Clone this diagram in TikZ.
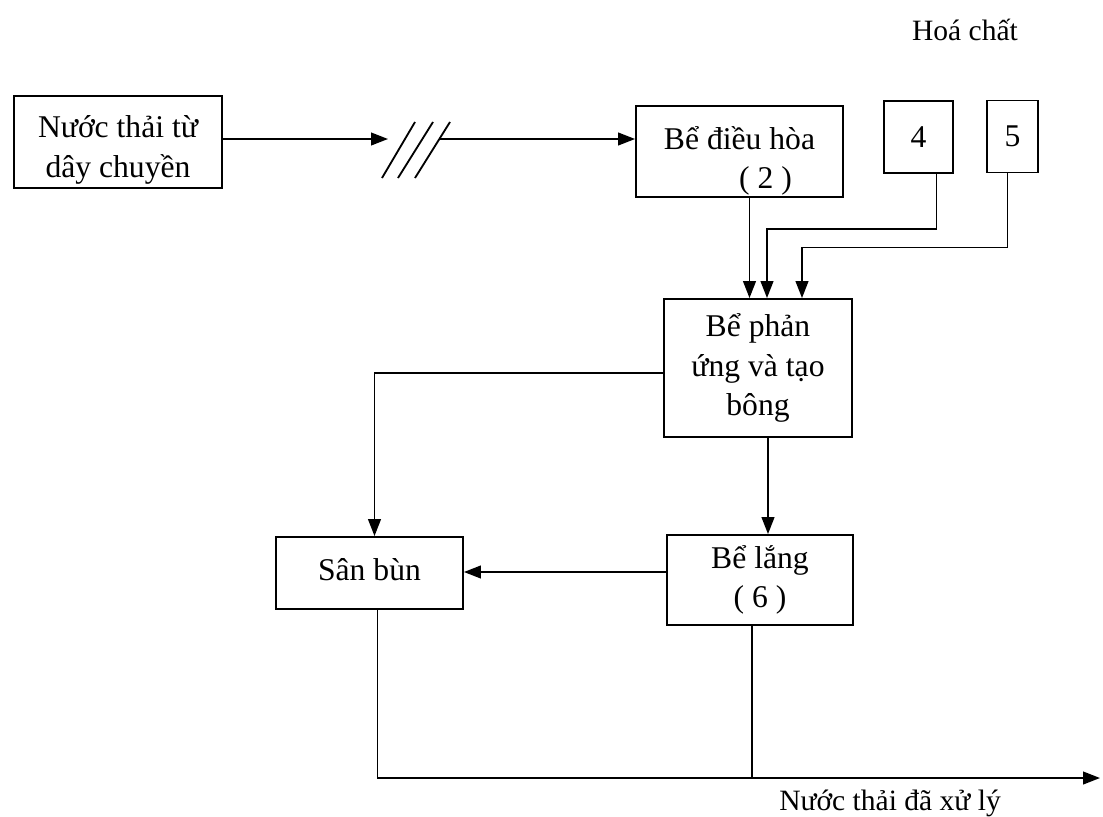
\documentclass[tikz,border=0pt]{standalone}
\usepackage{fontspec}
\setmainfont{Liberation Serif}
\usetikzlibrary{arrows.meta, calc}

\tikzset{
  tank/.style={draw, line width=1.3pt, align=center, inner sep=2pt,
               font=\fontsize{22.5}{28}\selectfont},
  flow/.style={line width=1.3pt, -{Triangle[length=12pt, width=9pt]}},
  pipe/.style={line width=1.3pt},
  note/.style={font=\fontsize{21}{28}\selectfont}
}

\begin{document}
\begin{tikzpicture}[x=0.025cm, y=-0.025cm]
  \useasboundingbox (0,0) rectangle (1103,816);

  % tanks
  \node[tank, minimum width=5.2cm, minimum height=2.3cm] (src) at (118,142)
       {\rule{0pt}{0.95cm}Nước thải từ\\dây chuyền};
  \node[tank, inner sep=0pt, minimum width=5.175cm, minimum height=2.275cm] (dieuhoa) at (739.5,151.5)
       {\rule{0pt}{1.05cm}Bể điều hòa\\\hspace*{1.3cm}( 2 )};
  \node[tank, minimum width=1.725cm, minimum height=1.8cm] (hc4) at (918.5,137) {4};
  \node[tank, minimum width=1.275cm, minimum height=1.8cm] (hc5) at (1012.5,136.5) {5};
  \node[tank, minimum width=4.7cm, minimum height=3.45cm] (phanung) at (758,368)
       {Bể phản\\ứng và tạo\\bông};
  \node[tank, minimum width=4.65cm, minimum height=2.25cm] (lang) at (760,580)
       {Bể lắng\\( 6 )};
  \node[tank, minimum width=4.675cm, minimum height=1.8cm] (sanbun) at (369.5,573)
       {\raisebox{5pt}{Sân bùn}};

  \node[note] (hoachat) at (965,30) {Hoá chất};
  \node[note] (daxuly) at (890,803) {Nước thải đã xử lý};

  % inlet with break mark
  \coordinate (brk) at (388,139);
  \coordinate (brkend) at (440,139);
  \draw[flow] (src.east |- brk) -- (brk);
  \draw[pipe] (382,178) -- (415,122)
              (398,178) -- (433,122)
              (415,178) -- (450,122);
  \draw[flow] (brkend) -- (dieuhoa.west |- brkend);

  % into reaction tank
  \draw[flow] ($(dieuhoa.south)+(10,0)$) coordinate (v) -- (v |- phanung.north);
  \draw[flow] ($(hc4.south)+(18,0)$) -- ++(0,55) -| ($(phanung.north)+(9,0)$);
  \draw[flow] ($(hc5.south)+(-5,0)$) -- ++(0,74) -| ($(phanung.north)+(44,0)$);

  % sludge and settling
  \draw[flow] ($(phanung.west)+(0,5)$) -| ($(sanbun.north)+(5,0)$);
  \draw[flow] ($(phanung.south)+(10,0)$) -- ($(lang.north)+(8,0)$);
  \draw[flow] ($(lang.west)+(0,-8)$) coordinate (t) -- (t -| sanbun.east);

  % outlet
  \coordinate (out) at (1100,778);
  \draw[flow] ($(sanbun.south)+(8,0)$) |- (out);
  \draw[pipe] ($(lang.south)+(-8,0)$) coordinate (u) -- (u |- out);
\end{tikzpicture}
\end{document}
